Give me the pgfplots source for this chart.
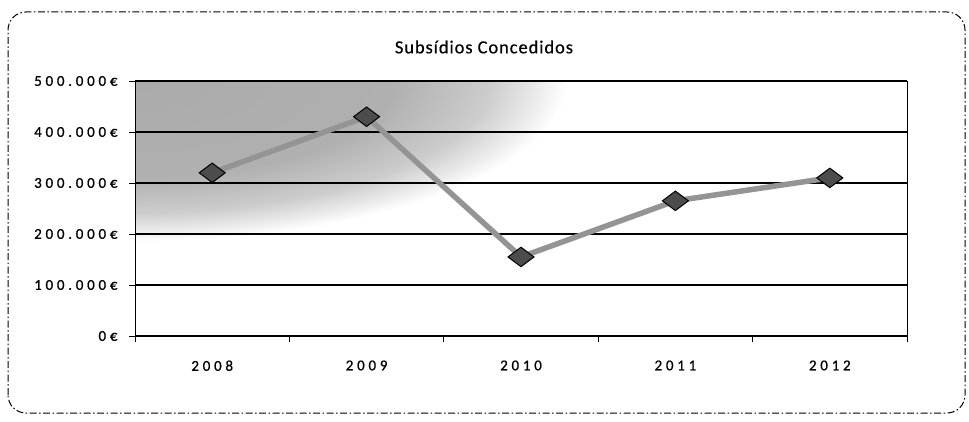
\documentclass[border=0pt]{standalone}
\usepackage{pgfplots}
\pgfplotsset{compat=1.18}
\usepackage{fontspec}
\setmainfont{Carlito}
\newfontfamily\tickfont[LetterSpace=25,FakeBold=0.8]{Carlito}
\newfontfamily\titlefont[LetterSpace=5,FakeBold=0.4]{Carlito}
\pgfdeclareradialshading{cornershade}{\pgfpoint{0bp}{0bp}}{color(0bp)=(black!33); color(15bp)=(black!31); color(20.5bp)=(black!20); color(23.5bp)=(black!7); color(25bp)=(white); color(50bp)=(white)}
\begin{document}
\begin{tikzpicture}
\path (0pt,0pt) rectangle (969pt,421pt);
\draw[black, line width=1pt, rounded corners=18pt, dash pattern=on 7pt off 2.5pt on 1.5pt off 2.5pt] (8pt,8pt) rectangle (965pt,409pt);
\node[font=\titlefont\fontsize{18.5}{20}\selectfont] at (484pt,374pt) {Subsídios Concedidos};
% background gradient of the plot area (drawn beneath the axis)
\begin{scope}
\clip (135pt,85pt) rectangle (907pt,340pt);
\shade[shading=cornershade] (-297pt,500pt) rectangle (567pt,180pt);
\end{scope}
\begin{axis}[
  at={(135pt,85pt)}, anchor=south west,
  scale only axis, width=772pt, height=255pt,
  xmin=-0.5, xmax=4.5, ymin=0, ymax=500000,
  xtick={-0.5,0.5,1.5,2.5,3.5,4.5}, xticklabels={},
  extra x ticks={0,1,2,3,4},
  extra x tick labels={2008,2009,2010,2011,2012},
  extra x tick style={tick style={draw=none}},
  ytick={0,100000,200000,300000,400000,500000},
  yticklabels={0€,100.000€,200.000€,300.000€,400.000€,500.000€},
  tick align=outside, major tick length=6pt,
  tick style={black, line width=0.9pt},
  xtick pos=bottom, ytick pos=left,
  ymajorgrids, grid style={black, line width=1.3pt},
  axis line style={black, line width=0.9pt},
  tick label style={font=\tickfont\fontsize{15}{16}\selectfont},
  yticklabel style={xshift=-8pt},
  xticklabel style={yshift=-15pt},
  scaled y ticks=false,
]
\addplot[color=black!42, line width=5.5pt, mark=diamond*, mark size=13pt,
  mark options={fill=black!70, draw=black, line width=1pt, rotate=90}]
  coordinates {(0,320000) (1,430000) (2,155000) (3,265000) (4,310000)};
\end{axis}
\end{tikzpicture}
\end{document}
